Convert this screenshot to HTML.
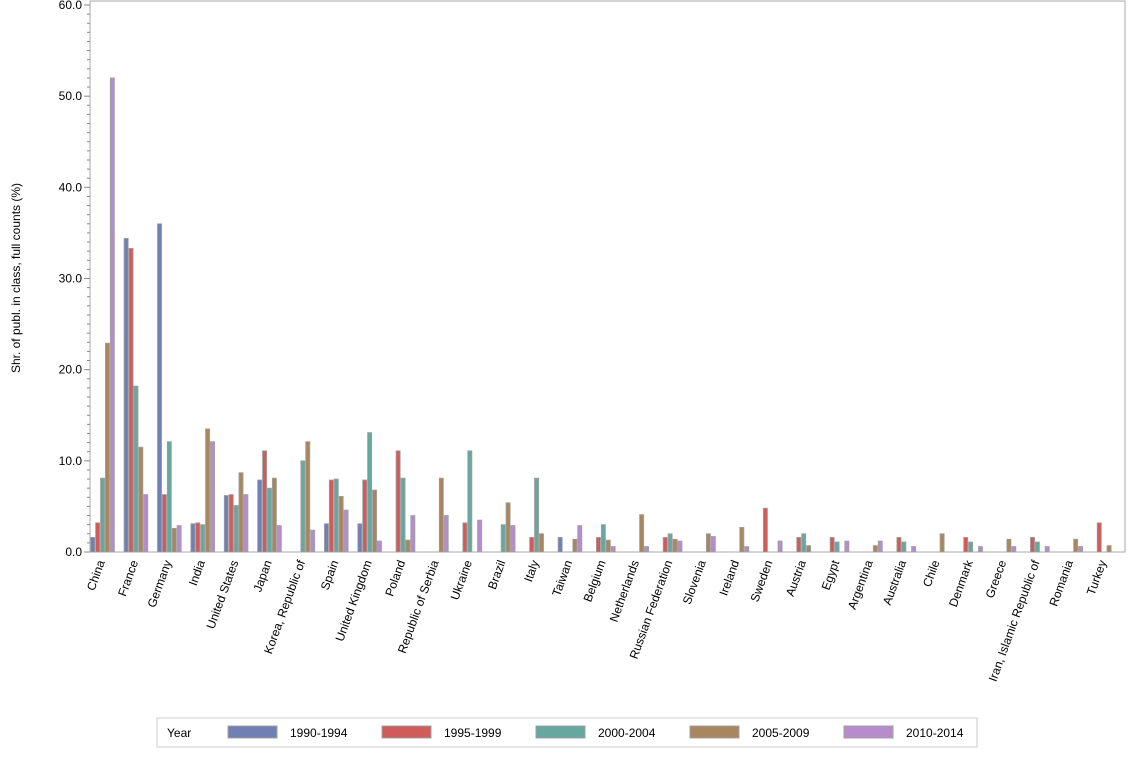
<!DOCTYPE html>
<html><head><meta charset="utf-8"><style>
body{margin:0;background:#fff;font-family:"Liberation Sans",sans-serif;}
svg text{font-family:"Liberation Sans",sans-serif;}
</style></head><body>
<svg id="chart" width="1134" height="756">
<rect x="0" y="0" width="1134" height="756" fill="#fff"/>
<g id="plot"></g>
</svg>
<script>
const categories=["China","France","Germany","India","United States","Japan","Korea, Republic of","Spain","United Kingdom","Poland","Republic of Serbia","Ukraine","Brazil","Italy","Taiwan","Belgium","Netherlands","Russian Federation","Slovenia","Ireland","Sweden","Austria","Egypt","Argentina","Australia","Chile","Denmark","Greece","Iran, Islamic Republic of","Romania","Turkey"];
const seriesNames=["1990-1994","1995-1999","2000-2004","2005-2009","2010-2014"];
const s1990=[1.6,34.4,36,3.1,6.2,7.9,0,3.1,3.1,0,0,0,0,0,1.6,0,0,0,0,0,0,0,0,0,0,0,0,0,0,0,0];
const s1995=[3.2,33.3,6.3,3.2,6.3,11.1,0,7.9,7.9,11.1,0,3.2,0,1.6,0,1.6,0,1.6,0,0,4.8,1.6,1.6,0,1.6,0,1.6,0,1.6,0,3.2];
const s2000=[8.1,18.2,12.1,3.0,5.1,7.0,10.0,8.0,13.1,8.1,0,11.1,3.0,8.1,0,3.0,0,2.0,0,0,0,2.0,1.1,0,1.1,0,1.1,0,1.1,0,0];
const s2005=[22.9,11.5,2.6,13.5,8.7,8.1,12.1,6.1,6.8,1.3,8.1,0,5.4,2.0,1.4,1.3,4.1,1.4,2.0,2.7,0,0.7,0,0.7,0,2.0,0,1.4,0,1.4,0.7];
const s2010=[52,6.3,2.9,12.1,6.3,2.9,2.4,4.6,1.2,4.0,4.0,3.5,2.9,0,2.9,0.6,0.6,1.2,1.7,0.6,1.2,0,1.2,1.2,0.6,0,0.6,0.6,0.6,0.6,0];
const yTicks=[0,10,20,30,40,50,60];
</script>
<script>
const NS="http://www.w3.org/2000/svg";
const g=document.getElementById('plot');
const series=[s1990,s1995,s2000,s2005,s2010];
const colors=["#7080b4","#d05b5b","#66a8a0","#a88760","#b78ccc"];
const X0=90,X1=1125,Y0=552,Ytop=5,YMAX=60;
const y=v=>Y0-(v/YMAX)*(Y0-Ytop);
const n=categories.length;
const step=(X1-X0)/n;
const bw=4.9;
const xg=i=>X0+0.7+i*step;
function el(t,a){const e=document.createElementNS(NS,t);for(const k in a)e.setAttribute(k,a[k]);g.appendChild(e);return e;}
const fr=el('rect',{x:X0,y:Ytop-4,width:X1-X0,height:Y0-Ytop+4,fill:'none',stroke:'#aaa'});


for(let v=0;v<=YMAX;v++){
  const major=v%10===0;
  const t=el('line',{x1:X0-(major?6:3),x2:X0,y1:y(v),y2:y(v),stroke:'#888'});
  
  
}
yTicks.forEach(v=>{
  const t=el('text',{x:X0-8,y:y(v)+4,'text-anchor':'end','font-size':12,fill:'#000'});
  t.textContent=v.toFixed(1);
  
  
});
const yt=el('text',{x:0,y:0,'text-anchor':'middle','font-size':12,transform:'translate(20,278) rotate(-90)'});
yt.textContent='Shr. of publ. in class, full counts (%)';


series.forEach((s,k)=>{
  s.forEach((v,i)=>{
    if(!v)return;
    const b=el('rect',{x:xg(i)+k*bw,y:y(v),width:bw-0.8,height:Y0-y(v),fill:colors[k],stroke:'#a0a0a0','stroke-width':0.8});
    
    
  });
});
categories.forEach((c,i)=>{
  const cx=xg(i)+bw*2.5+2;
  const t=el('text',{x:0,y:0,'text-anchor':'end','font-size':12,transform:`translate(${cx},${Y0+10}) rotate(-70)`});
  t.textContent=c;
  
  
});
const lb=el('rect',{x:157,y:718,width:820,height:29,fill:'#fff',stroke:'#ccc'});


const lt=el('text',{x:167,y:737,'font-size':12});
lt.textContent='Year';


seriesNames.forEach((nm,k)=>{
  const lx=228+k*154;
  const sw=el('rect',{x:lx,y:726,width:49,height:12,fill:colors[k],stroke:'#a0a0a0'});
  
  
  const tx=el('text',{x:lx+62,y:737,'font-size':12});
  tx.textContent=nm;
  
  
});
</script>
</body></html>
